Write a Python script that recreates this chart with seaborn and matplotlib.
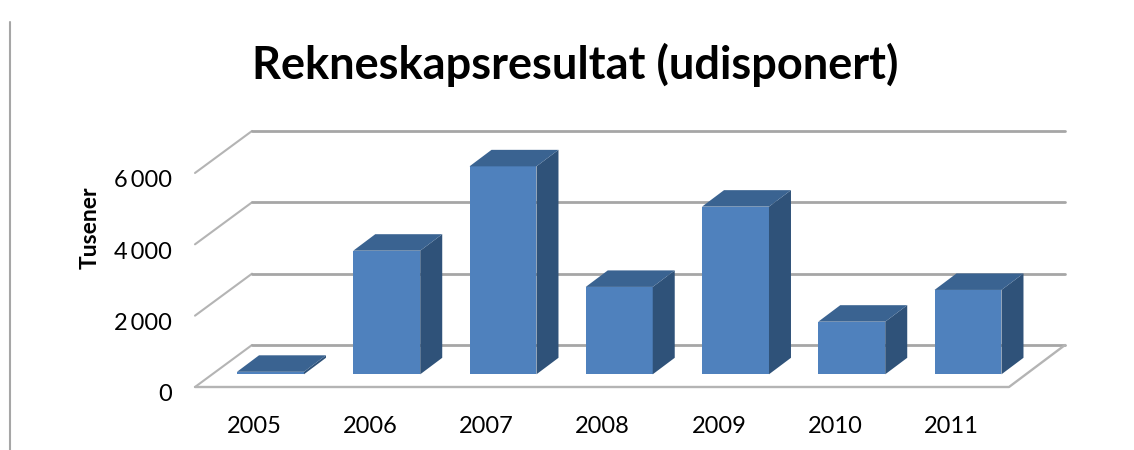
import matplotlib
matplotlib.use("Agg")
import matplotlib.pyplot as plt
from matplotlib.lines import Line2D
from matplotlib.patches import Polygon
from matplotlib.transforms import ScaledTranslation
import seaborn as sns

years = ["2005", "2006", "2007", "2008", "2009", "2010", "2011"]
result = [70, 3465, 5830, 2450, 4700, 1475, 2365]
y_ticks = [0, 2000, 4000, 6000]
y_tick_labels = ["0", "2\u2009000", "4\u2009000", "6\u2009000"]
title = "Rekneskapsresultat (udisponert)"

W, H = 1134, 450
X0, X_STEP = 270.5, 116.25   # pixel of first bar centre, pixels per category
Y0, Y_SCALE = 374.3, 0.03567  # pixel of bar base, pixels per unit


def to_x(px):
    return (px - X0) / X_STEP


def to_y(py):
    return (Y0 - py) / Y_SCALE


sns.set_theme(style="white")
plt.rcParams["font.family"] = ["Lato", "DejaVu Sans"]

fig = plt.figure(figsize=(W / 100, H / 100), dpi=100)
L, R, T, B = 180, 1100, 90, 410
ax = fig.add_axes([L / W, 1 - B / H, (R - L) / W, (B - T) / H])

sns.barplot(x=years, y=result, color="#4F81BD", saturation=1, width=0.576, ax=ax,
            zorder=3, linewidth=0)
ax.set_xlim(to_x(L), to_x(R))
ax.set_ylim(to_y(B), to_y(T))

# depth of the fake 3d box
dx, dy = 22 / X_STEP, 16.5 / Y_SCALE
for bar in ax.patches[:len(years)]:
    x1, x2 = bar.get_x(), bar.get_x() + bar.get_width()
    h = bar.get_height()
    ax.add_patch(Polygon([(x2, 0), (x2 + dx, dy), (x2 + dx, h + dy), (x2, h)],
                         fc="#2F5279", ec="none", zorder=3))
    ax.add_patch(Polygon([(x1, h), (x1 + dx, h + dy), (x2 + dx, h + dy), (x2, h)],
                         fc="#3A6391", ec="none", zorder=3))

# walls and floor
grid = "#A6A6A6"
fl, bl = to_x(195), to_x(252)
fr, br = to_x(1009), to_x(1065)
front, back = to_y(387), to_y(345)
for v in y_ticks:
    ax.plot([fl, bl], [front + v, back + v], color="#B4B4B4", lw=1.5, zorder=1, clip_on=False)
    ax.plot([bl, br], [back + v, back + v], color=grid, lw=2, zorder=1)
ax.plot([fl, fr, br], [front, front, back], color="#B4B4B4", lw=1.7, zorder=1, clip_on=False)

ax.set_yticks(y_ticks)
ax.set_yticklabels(y_tick_labels)
ax.tick_params(axis="both", length=0, labelsize=17, colors="black", pad=0)
ax.tick_params(axis="y", pad=6)
ax.tick_params(axis="x", pad=4.5)

# labels sit on the front plane, not where the bars stand
for lab in ax.get_yticklabels():
    lab.set_transform(lab.get_transform() + ScaledTranslation(0, -18.5 / 100, fig.dpi_scale_trans))
for lab in ax.get_xticklabels():
    lab.set_transform(lab.get_transform() + ScaledTranslation(-16.5 / 100, 0, fig.dpi_scale_trans))

ax.set_ylabel("Tusener", fontsize=16.5, fontweight="bold", color="black")
ax.yaxis.set_label_coords((101 - L) / (R - L), (B - 228) / (B - T))
sns.despine(ax=ax, left=True, bottom=True)
ax.set_facecolor("none")

fig.text(575 / W, 1 - 65 / H, title, fontsize=32.5, fontweight="bold", color="black",
         ha="center", va="center")
fig.add_artist(Line2D([10 / W, 10 / W], [0, 1 - 22 / H], color="#A6A6A6", lw=1.5))

fig.savefig("out.png", dpi=100)
